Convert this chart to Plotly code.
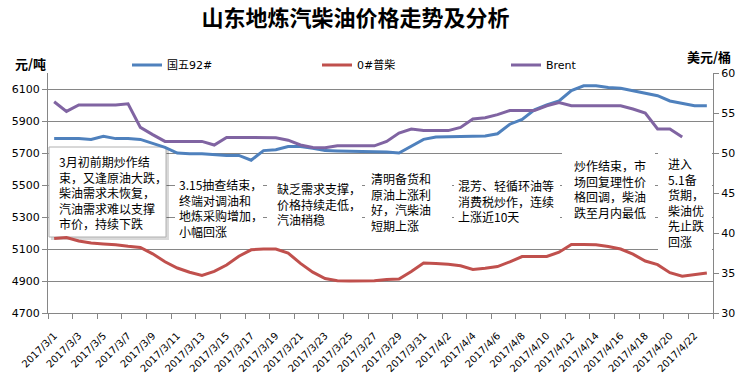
import pandas as pd
import plotly.graph_objects as go

# ---------------- data ----------------
dates = pd.date_range("2017-03-01", "2017-04-23", freq="D")

gas92 = [5790, 5790, 5790, 5785, 5805, 5790, 5790, 5785, 5760, 5735,
         5700, 5695, 5695, 5690, 5685, 5685, 5655, 5715, 5720, 5740,
         5740, 5730, 5715, 5713, 5712, 5710, 5708, 5706, 5700, 5745,
         5785, 5800, 5802, 5807, 5807, 5807, 5820, 5880, 5910, 5970,
         6000, 6025, 6090, 6120, 6120, 6110, 6105, 6090, 6075, 6058,
         6025, 6012, 5995, 5995]

diesel = [5165, 5172, 5150, 5137, 5132, 5127, 5117, 5110, 5070, 5020,
          4981, 4955, 4935, 4960, 5000, 5055, 5095, 5100, 5100, 5075,
          5010, 4955, 4915, 4902, 4900, 4900, 4902, 4910, 4912, 4960,
          5012, 5010, 5005, 4995, 4972, 4980, 4990, 5020, 5053, 5053,
          5053, 5080, 5128, 5128, 5126, 5115, 5100, 5068, 5025, 5002,
          4952, 4930, 4939, 4950]

brent = [56.4, 55.2, 56.0, 56.0, 56.0, 56.0, 56.15, 53.2, 52.3, 51.45,
         51.45, 51.45, 51.45, 51.0, 51.95, 51.95, 51.95, 51.95, 51.9, 51.6,
         51.0, 50.7, 50.65, 50.9, 50.9, 50.9, 50.9, 51.45, 52.5, 53.0,
         52.8, 52.8, 52.8, 53.2, 54.25, 54.4, 54.8, 55.3, 55.3, 55.3,
         55.9, 56.3, 55.9, 55.9, 55.9, 55.9, 55.9, 55.5, 55.0, 53.0,
         53.0, 52.0, None, None]

series_names = ["国五92#", "0#普柴", "Brent"]
tick_dates = list(dates[::2])
tick_labels = [f"{d.year}/{d.month}/{d.day}" for d in tick_dates]

notes = [
    "3月初前期炒作结<br>束，又逢原油大跌，<br>柴油需求未恢复，<br>汽油需求难以支撑<br>市价，持续下跌",
    "3.15抽查结束，<br>终端对调油和<br>地炼采购增加，<br>小幅回涨",
    "缺乏需求支撑，<br>价格持续走低，<br>汽油稍稳",
    "清明备货和<br>原油上涨利<br>好，汽柴油<br>短期上涨",
    "混芳、轻循环油等<br>消费税炒作，连续<br>上涨近10天",
    "炒作结束，市<br>场回复理性价<br>格回调，柴油<br>跌至月内最低",
    "进入<br>5.1备<br>货期，<br>柴油优<br>先止跌<br>回涨",
]

# ---------------- layout helpers ----------------
FW, FH = 750, 382
L, R, T, B = 48, 37, 73, 69
W = FW - L - R
H = FH - T - B
Y_MIN, Y_MAX = 4700, 6200

half = pd.Timedelta(hours=12)
x_start = dates[0] - half
x_end = dates[-1] + half
span = x_end - x_start


def px(x):
    return (x - L) / W


def py(y):
    return (FH - B - y) / H


def dx(x):  # pixel -> date (for box shapes)
    return x_start + span * px(x)


def dy(y):  # pixel -> left-axis value (for box shapes)
    return Y_MIN + (Y_MAX - Y_MIN) * py(y)


boundaries = [d - half for d in tick_dates] + [x_end]

GRID = "#868686"
TXT = "Noto Sans CJK SC"
NUM = "DejaVu Sans"

fig = go.Figure()
fig.add_trace(go.Scatter(x=dates, y=gas92, name=series_names[0], mode="lines",
                         line=dict(color="#4F81BD", width=3), legend="legend",
                         showlegend=True))
fig.add_trace(go.Scatter(x=dates, y=diesel, name=series_names[1], mode="lines",
                         line=dict(color="#C0504D", width=3), legend="legend2",
                         showlegend=True))
fig.add_trace(go.Scatter(x=dates, y=brent, name=series_names[2], mode="lines",
                         line=dict(color="#8064A2", width=3), yaxis="y2",
                         legend="legend3", connectgaps=False, showlegend=True))

legend_common = dict(orientation="h", xanchor="left", yanchor="middle",
                     bgcolor="rgba(0,0,0,0)", borderwidth=0, visible=True,
                     font=dict(family=f"{NUM}, {TXT}", size=11, color="black"))

boxes = [
    (175, 176, 263, 236),
    (267, 178, 362, 226),
    (365, 168, 452, 232),
    (454, 176, 560, 222),
    (562, 150, 655, 220),
    (658, 150, 712, 253),
]
text_pos = [(57, 150.5), (177, 173.5), (274.5, 178), (368.5, 167.5),
            (455.5, 175), (571.5, 154.5), (665.5, 153)]

shapes = []
bx0, by0, bx1, by1 = 49, 147, 166, 237
shapes.append(dict(type="rect", xref="x", yref="y", layer="between",
                   x0=dx(bx0 + 2), x1=dx(bx1 + 3), y0=dy(by1 + 3), y1=dy(by0 + 2),
                   fillcolor="rgba(0,0,0,0.15)", line=dict(width=0)))
shapes.append(dict(type="rect", xref="x", yref="y", layer="between",
                   x0=dx(bx0), x1=dx(bx1), y0=dy(by1), y1=dy(by0),
                   fillcolor="white", line=dict(color="#B0B0B0", width=1)))
for (x0, y0, x1, y1) in boxes:
    shapes.append(dict(type="rect", xref="x", yref="y", layer="between",
                       x0=dx(x0), x1=dx(x1), y0=dy(y1), y1=dy(y0),
                       fillcolor="white", line=dict(width=0)))

annotations = []
for txt, (ax, ay) in zip(notes, text_pos):
    annotations.append(dict(text=txt, x=px(ax), y=py(ay), xref="paper", yref="paper",
                            xanchor="left", yanchor="top", align="left", showarrow=False,
                            font=dict(family=TXT, size=12, color="black")))
annotations.append(dict(text="<b>元/吨</b>", x=px(30), y=py(64), xref="paper", yref="paper",
                        xanchor="center", yanchor="middle", showarrow=False,
                        font=dict(family=TXT, size=13, color="black")))
annotations.append(dict(text="<b>美元/桶</b>", x=px(709), y=py(56), xref="paper", yref="paper",
                        xanchor="center", yanchor="middle", showarrow=False,
                        font=dict(family=TXT, size=13, color="black")))

fig.update_layout(
    width=FW, height=FH,
    showlegend=True,
    margin=dict(l=L, r=R, t=T, b=B, autoexpand=False),
    paper_bgcolor="white", plot_bgcolor="white",
    title=dict(text="<b>山东地炼汽柴油价格走势及分析</b>", x=355.5 / FW, xanchor="center",
               xref="container", yref="container", y=1 - 18 / FH, yanchor="middle",
               font=dict(family=TXT, size=22, color="black")),
    legend=dict(x=px(127), y=py(65), **legend_common),
    legend2=dict(x=px(317), y=py(65), **legend_common),
    legend3=dict(x=px(506), y=py(65), **legend_common),
    xaxis=dict(type="date", range=[x_start, x_end],
               tickmode="array", tickvals=tick_dates, ticktext=tick_labels,
               tickangle=-45, ticks="outside", ticklen=12, tickcolor="rgba(0,0,0,0)",
               showgrid=False, showline=True, linecolor=GRID, linewidth=1,
               tickfont=dict(family=NUM, size=10, color="black"),
               minor=dict(tickmode="array", tickvals=boundaries, ticks="outside",
                          ticklen=5, tickcolor=GRID, showgrid=False)),
    yaxis=dict(range=[Y_MIN, Y_MAX], tick0=4700, dtick=200, showgrid=True,
               gridcolor=GRID, gridwidth=1, zeroline=False, ticks="outside",
               ticklen=5, tickcolor=GRID, showline=True, linecolor=GRID,
               tickfont=dict(family=NUM, size=11, color="black")),
    yaxis2=dict(range=[30, 60], tick0=30, dtick=5, overlaying="y", side="right",
                showgrid=False, zeroline=False, ticks="outside", ticklen=5,
                tickcolor=GRID, showline=True, linecolor=GRID,
                tickfont=dict(family=NUM, size=11, color="black")),
    shapes=shapes,
    annotations=annotations,
)

fig.write_html("out.html", config={"displayModeBar": False},
               post_script="document.body.style.margin='0';")
